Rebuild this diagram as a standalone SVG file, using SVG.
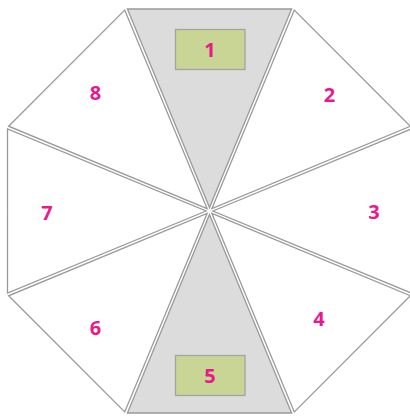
<svg xmlns="http://www.w3.org/2000/svg" width="410" height="416" viewBox="0 0 410 416">
<style>
.tri{fill:#ffffff;stroke:#999999;stroke-width:1.3;stroke-linejoin:miter}
.tri.shade{fill:#dcdcdc}
.box{fill:#c9d594;stroke:#a3a3a3;stroke-width:1.3}
.lbl{font-family:"Open Sans","Liberation Sans",sans-serif;font-weight:bold;font-size:20px;fill:#e8198b;text-anchor:middle}
</style>
<defs>
<polygon id="wedge" points="0,-3.4 -82.1,-202 82.1,-202"/>
</defs>
<rect width="410" height="416" fill="#ffffff"/>
<g id="seg1">
<use href="#wedge" class="tri shade" transform="translate(209.5 211) rotate(0)"/>
<rect class="box" x="175.5" y="29.5" width="69.5" height="40"/>
<text class="lbl" x="210" y="57">1</text>
</g>
<g id="seg2">
<use href="#wedge" class="tri" transform="translate(209.5 211) rotate(45)"/>
<text class="lbl" x="329.5" y="102">2</text>
</g>
<g id="seg3">
<use href="#wedge" class="tri" transform="translate(209.5 211) rotate(90)"/>
<text class="lbl" x="374" y="219">3</text>
</g>
<g id="seg4">
<use href="#wedge" class="tri" transform="translate(209.5 211) rotate(135)"/>
<text class="lbl" x="319" y="325.5">4</text>
</g>
<g id="seg5">
<use href="#wedge" class="tri shade" transform="translate(209.5 211) rotate(180)"/>
<rect class="box" x="175.5" y="355.5" width="69.5" height="40"/>
<text class="lbl" x="210" y="382.5">5</text>
</g>
<g id="seg6">
<use href="#wedge" class="tri" transform="translate(209.5 211) rotate(225)"/>
<text class="lbl" x="95.5" y="334.5">6</text>
</g>
<g id="seg7">
<use href="#wedge" class="tri" transform="translate(209.5 211) rotate(270)"/>
<text class="lbl" x="47" y="219.5">7</text>
</g>
<g id="seg8">
<use href="#wedge" class="tri" transform="translate(209.5 211) rotate(315)"/>
<text class="lbl" x="95.5" y="99.5">8</text>
</g>
<g id="connectors"></g>
</svg>
